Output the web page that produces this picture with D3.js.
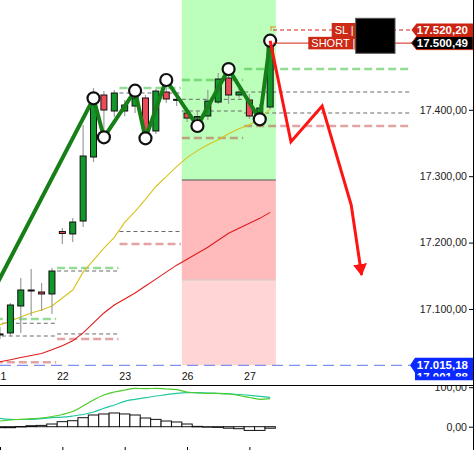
<!DOCTYPE html>
<html><head><meta charset="utf-8">
<script src="https://cdn.jsdelivr.net/npm/d3@7"></script>
<style>body{margin:0;background:#fff;} svg{display:block;font-family:"Liberation Sans",Arial,sans-serif;}</style>
</head><body><svg id="c" width="475" height="450"></svg>
<script>
// ---------- DATA ----------
const dayLabels = ["21","22","23","26","27"];
const dayStart = [0,6,12,18,24];
const open  = [17062.4,17063.9,17104.5,17128.6,17125.6,17122.6, 17216.7,17213.0,17232.5,17328.9,17422.3,17398.2, 17398.2,17405.7,17417.8,17368.1,17426.8,17415.8, 17395.2,17387.6,17390.7,17411.7,17447.9,17422.3, 17414.8,17395.2,17404.2];
const high  = [17072.9,17109.0,17146.7,17160.2,17139.2,17161.7, 17222.0,17237.0,17377.1,17432.8,17428.3,17429.8, 17414.8,17428.3,17422.3,17431.3,17444.9,17425.3, 17402.7,17398.2,17429.8,17455.4,17461.4,17432.8, 17423.8,17408.7,17503.6];
const low   = [17054.8,17059.3,17063.9,17089.5,17097.0,17092.5, 17197.9,17200.9,17223.5,17321.4,17360.5,17389.2, 17390.7,17395.2,17357.5,17363.6,17410.2,17405.7, 17381.6,17375.6,17384.6,17408.7,17408.7,17417.8, 17386.1,17386.1,17401.2];
const close = [17062.4,17106.0,17128.6,17128.6,17122.6,17157.2, 17213.7,17231.0,17330.4,17417.8,17399.7,17425.3, 17407.2,17417.8,17366.6,17428.3,17416.3,17415.8, 17387.6,17389.9,17413.2,17446.4,17422.3,17426.8, 17390.7,17402.7,17497.6];
const maYellow = [17076,17082,17088,17094,17098.5,17104.5,17116.5,17128.5,17155.5,17173.5,17191.5,17208,17230.5,17247,17265,17284.5,17299.5,17314.5,17328,17338.5,17347.5,17355,17364,17371.5,17377.5,17386.5,17401.5];
const maRed = [17020.5,17023.5,17027,17030,17033,17038.5,17044.5,17052,17064,17079,17094,17106,17115,17124,17134.5,17145,17155.5,17166,17175,17184,17193,17203.5,17214,17221.5,17229,17236.5,17245.5];
// previous day (20th) levels: high, close, open, low
const prevDayLevels = [17084.9,17078.5,17059.3,17019.7];
const zzIdx = [-3,9,10,13,14,16,19,22,25,26];
const zzVal = [17056.3,17417.3,17358.6,17428.8,17357.1,17444.9,17375.6,17461.4,17385.7,17504.1];
const fcIdx = [26,28,31,33.8,34.8];
const fcVal = [17504.1,17352,17405.7,17256.6,17151.2];
const zoneLevels = [17566,17294.3,17143.7,17015.18];
const priceTicks = [17100,17200,17300,17400];
const slPrice = 17520.20, shortPrice = 17500.49, bluePrice = 17015.18, hiddenPrice = 17001.88;
const oscGreen = [14.4,17.0,18.7,20.3,22.0,25.8,30.9,38.5,52.4,67.6,80.3,87.8,92.9,97.2,96.2,97.2,95.4,93.7,87.8,85.3,84.6,84.1,82.8,79.0,73.9,69.4,70.9];
const oscTeal  = [21.3,18.7,18.2,18.7,20.3,22.8,24.1,27.1,30.9,37.2,46.6,54.9,64.3,69.4,73.4,77.7,81.0,84.6,86.1,86.1,85.3,84.6,83.5,81.5,79.5,77.0,74.4];
const hist = [-2.5,-2.5,0.5,2.5,3.3,6.8,12.7,15.2,22.8,29.6,32.2,34.7,32.2,29.6,22.0,18.5,14.4,11.9,6.8,0.8,-0.8,-1.8,-3.8,-5.1,-9.4,-9.4,-3.8];
const oscTicks = [0,100];

// ---------- SETUP ----------
const svg = d3.select("#c");
const x = d3.scaleLinear().domain([0,45]).range([0,467.6]);
const y = d3.scaleLinear().domain([16985.5,17565.4]).range([385,0]);
const yo = d3.scaleLinear().domain([0,100]).range([426.7,387.2]);
const loc = d3.formatLocale({decimal:",",thousands:".",grouping:[3],currency:["",""]});
const fmt = loc.format(",.2f");
const half = (x(1)-x(0))/2;
const idx = d3.range(open.length);

const defs = svg.append("defs");
defs.append("clipPath").attr("id","cm").append("rect").attr("x",0).attr("y",0).attr("width",473).attr("height",385);
defs.append("clipPath").attr("id","co").append("rect").attr("x",0).attr("y",385.5).attr("width",473).attr("height",64.5);
defs.append("clipPath").attr("id","cb").append("rect").attr("x",400).attr("y",350).attr("width",75).attr("height",26.5);
defs.append("marker").attr("id","arr").attr("viewBox","0 0 12 14").attr("refX",11).attr("refY",7)
  .attr("markerWidth",12).attr("markerHeight",14).attr("markerUnits","userSpaceOnUse").attr("orient","auto")
  .append("path").attr("d","M0,0L12,7L0,14Z").attr("fill","#ff1414");

const main = svg.append("g").attr("clip-path","url(#cm)");

// zones
const zx0 = x(dayStart[3])-half, zx1 = x(26)+half+0.5;
const zoneFill = ["#bbffbb","#ffbbbb","#ffd5d5"];
for (let k=0;k<3;k++){
  main.append("rect").attr("x",zx0).attr("width",zx1-zx0)
    .attr("y",y(zoneLevels[k])).attr("height",y(zoneLevels[k+1])-y(zoneLevels[k]))
    .attr("fill",zoneFill[k]);
}
main.append("line").attr("x1",zx0).attr("x2",zx1).attr("y1",y(zoneLevels[1])).attr("y2",y(zoneLevels[1])).attr("stroke","#555").attr("stroke-width",1);
main.append("line").attr("x1",zx0).attr("x2",zx1).attr("y1",y(zoneLevels[2])).attr("y2",y(zoneLevels[2])).attr("stroke","#ccc").attr("stroke-width",1);

// blue level line
main.append("line").attr("x1",0).attr("x2",410).attr("y1",y(bluePrice)).attr("y2",y(bluePrice))
  .attr("stroke","#7f8ff0").attr("stroke-width",1.3).attr("stroke-dasharray","11,6");

// daily levels from previous day
const styles = [
  {c:"rgba(60,190,60,0.55)",w:2.5,d:"8,4"},
  {c:"#6a6a6a",w:1,d:"4,3"},
  {c:"#6a6a6a",w:1,d:"4,3"},
  {c:"rgba(190,50,50,0.45)",w:2.5,d:"8,4"}
];
dayStart.forEach((s,d)=>{
  let lv;
  if (d===0) lv = prevDayLevels;
  else {
    const a = dayStart[d-1], b = s;
    const hs = high.slice(a,b), ls = low.slice(a,b);
    lv = [d3.max(hs), close[b-1], open[a], d3.min(ls)];
  }
  const xa = x(s)-half, xb = d<dayStart.length-1 ? x(dayStart[d+1])-half-1 : 410;
  [0,3,1,2].forEach(k=>{
    main.append("line").attr("x1",xa).attr("x2",xb).attr("y1",y(lv[k])).attr("y2",y(lv[k]))
      .attr("stroke",styles[k].c).attr("stroke-width",styles[k].w).attr("stroke-dasharray",styles[k].d);
  });
});

// moving averages
const lineGen = d3.line().x((d,i)=>x(i)).y(d=>y(d));
main.append("path").attr("d",lineGen(maRed)).attr("fill","none").attr("stroke","#e11b1b").attr("stroke-width",1.1);
main.append("path").attr("d",lineGen(maYellow)).attr("fill","none").attr("stroke","#d8c21a").attr("stroke-width",1.1);

// candles
main.selectAll(".wick").data(idx).enter().append("line")
  .attr("x1",i=>x(i)).attr("x2",i=>x(i)).attr("y1",i=>y(high[i])).attr("y2",i=>y(low[i]))
  .attr("stroke","#9c9c9c").attr("stroke-width",1.2);
main.selectAll(".body").data(idx).enter().append("rect")
  .attr("x",i=>x(i)-3).attr("width",6)
  .attr("y",i=>y(Math.max(open[i],close[i])))
  .attr("height",i=>Math.max(1,Math.abs(y(open[i])-y(close[i]))))
  .attr("fill",i=>close[i]>open[i]?"#12972b":(close[i]<open[i]?"#ec4a58":"#111"))
  .attr("stroke","#111").attr("stroke-width",1);

// zigzag
const zz = zzIdx.map((d,i)=>[d,zzVal[i]]);
main.append("path").attr("d",d3.line().x(d=>x(d[0])).y(d=>y(d[1]))(zz))
  .attr("fill","none").attr("stroke","#177f17").attr("stroke-width",4).attr("stroke-linejoin","round");
main.selectAll(".pv").data(zz.slice(1)).enter().append("circle")
  .attr("cx",d=>x(d[0])).attr("cy",d=>y(d[1])).attr("r",6)
  .attr("fill","#fff").attr("stroke","#111").attr("stroke-width",2.2);

// forecast arrow
const fc = fcIdx.map((d,i)=>[d,fcVal[i]]);
main.append("path").attr("d",d3.line().x(d=>x(d[0])).y(d=>y(d[1]))(fc))
  .attr("fill","none").attr("stroke","#ff1414").attr("stroke-width",3).attr("marker-end","url(#arr)");

// SL / SHORT lines
const ySL = y(slPrice), ySh = y(shortPrice);
main.append("line").attr("x1",273).attr("x2",412).attr("y1",ySL).attr("y2",ySL).attr("stroke","#d42010").attr("stroke-width",1).attr("stroke-dasharray","4,3");
main.append("line").attr("x1",273).attr("x2",412).attr("y1",ySh).attr("y2",ySh).attr("stroke","#d42010").attr("stroke-width",1);
main.append("path").attr("d",`M271,${ySL+1}V${ySL-4}M271,${ySL-3}H276`).attr("stroke","#e08a20").attr("stroke-width",1).attr("fill","none");

// tag boxes
function tag(xl,xr,cy,h,txt,fill){
  main.append("rect").attr("x",xl).attr("y",cy-h/2).attr("width",xr-xl).attr("height",h).attr("fill",fill);
  main.append("text").attr("x",xl+3).attr("y",cy).attr("dy","0.36em").attr("fill","#fff").attr("font-size",11).text(txt);
}
tag(331.7,356,ySL,14,"SL |","#cc2a14");
tag(308.3,356,ySh,12.5,"SHORT |","#cc2a14");
main.append("rect").attr("x",355.7).attr("y",18.3).attr("width",39.3).attr("height",35).attr("fill","#000").attr("stroke","#555").attr("stroke-width",1);

function priceTag(cy,h,txt,fill,stroke,g){
  const t=411.5, xr=473;
  g.append("path").attr("d",`M${t},${cy}L${t+5},${cy-h/2}H${xr}V${cy+h/2}H${t+5}Z`).attr("fill",fill).attr("stroke",stroke||"none");
  g.append("text").attr("x",468).attr("y",cy).attr("dy","0.36em").attr("text-anchor","end")
    .attr("fill","#fff").attr("font-weight","bold").attr("font-size",11.5).text(txt);
}
const tags = svg.append("g");
priceTag(ySL,13,fmt(slPrice),"#cc2410",null,tags);
priceTag(ySh,13,fmt(shortPrice),"#000","#cc2410",tags);
// blue tag (with a second tag hidden behind)
const yb = y(bluePrice);
tags.append("path").attr("d",`M410,${yb}L415,${yb-7.5}H473V${yb+15}H415V${yb+7.5}Z`).attr("fill","#0a28ff");
tags.append("text").attr("x",468).attr("y",yb).attr("dy","0.36em").attr("text-anchor","end").attr("fill","#fff").attr("font-weight","bold").attr("font-size",11.5).text(fmt(bluePrice));
tags.append("text").attr("clip-path","url(#cb)").attr("x",468).attr("y",yb+12).attr("dy","0.36em").attr("text-anchor","end").attr("fill","#fff").attr("font-weight","bold").attr("font-size",11.5).text(fmt(hiddenPrice));

// right price axis
const ax = svg.append("g").attr("transform","translate(473,0)")
  .call(d3.axisLeft(y).tickValues(priceTicks).tickFormat(fmt).tickSize(4).tickPadding(2));
ax.select(".domain").remove();
ax.selectAll("text").attr("font-size",10.6).attr("fill","#222").attr("font-family","Liberation Sans, Arial, sans-serif");

// date labels
const dx = svg.append("g").attr("transform","translate(0,379.5)")
  .call(d3.axisBottom(x).tickValues(dayStart).tickFormat((d,i)=>dayLabels[i]).tickSize(0));
dx.select(".domain").remove();
dx.selectAll("text").attr("y",0).attr("dy",0).attr("font-size",10.6).attr("fill","#111").attr("font-family","Liberation Sans, Arial, sans-serif");

// ---------- OSCILLATOR PANEL ----------
const osc = svg.append("g").attr("clip-path","url(#co)");
osc.selectAll(".hb").data(idx).enter().append("rect")
  .attr("x",i=>x(i)-half).attr("width",half*2)
  .attr("y",i=>Math.min(yo(0),yo(hist[i]))).attr("height",i=>Math.max(0.5,Math.abs(yo(hist[i])-yo(0))))
  .attr("fill","#fff").attr("stroke","#111").attr("stroke-width",1);
const og = d3.line().x((d,i)=>x(i)).y(d=>yo(d)).curve(d3.curveMonotoneX);
osc.append("path").attr("d",og(oscTeal)).attr("fill","none").attr("stroke","#22c7a0").attr("stroke-width",1.2);
osc.append("path").attr("d",og(oscGreen)).attr("fill","none").attr("stroke","#4ccc2a").attr("stroke-width",1.2);
const oa = osc.append("g").attr("transform","translate(473,0)")
  .call(d3.axisLeft(yo).tickValues(oscTicks).tickFormat(fmt).tickSize(4).tickPadding(2));
oa.select(".domain").remove();
oa.selectAll("text").attr("font-size",10.6).attr("fill","#222").attr("font-family","Liberation Sans, Arial, sans-serif");

// bottom ticks
const bt = svg.append("g").attr("transform","translate(0,450)")
  .call(d3.axisTop(x).tickValues(dayStart).tickFormat("").tickSize(3));
bt.select(".domain").remove();

// frame lines
svg.append("line").attr("x1",0).attr("x2",473).attr("y1",385.5).attr("y2",385.5).attr("stroke","#000");
svg.append("line").attr("x1",473.5).attr("x2",473.5).attr("y1",0).attr("y2",450).attr("stroke","#000");
</script>
</body></html>
